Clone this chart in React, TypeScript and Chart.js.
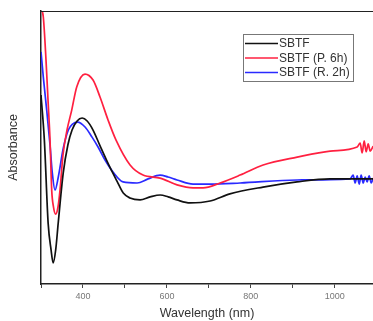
import React, { useEffect, useRef } from "react";
import { Chart, registerables } from "chart.js";

Chart.register(...registerables);

const seriesNames = ["SBTF", "SBTF (P. 6h)", "SBTF (R. 2h)"];
const seriesColors = ["#111111", "#ff2040", "#2a2aff"];

const sbtfX = [300, 308, 317, 324, 329, 335, 341, 353, 364, 374, 386, 398, 410, 424, 441, 465, 481, 496, 512, 536, 560, 584, 603, 624, 655, 703, 750, 829, 910, 989, 1044, 1091];
const sbtfY = [0.692, 0.527, 0.223, 0.125, 0.077, 0.125, 0.223, 0.407, 0.509, 0.564, 0.597, 0.608, 0.597, 0.564, 0.505, 0.425, 0.377, 0.333, 0.315, 0.308, 0.319, 0.326, 0.319, 0.308, 0.297, 0.304, 0.33, 0.355, 0.374, 0.385, 0.385, 0.385];

const pX = [300, 305.5, 311.9, 316.7, 321.5, 325.5, 329.8, 335, 340.5, 345.3, 352.4, 362, 373.2, 385.1, 404.9, 424, 440.6, 459.7, 478.8, 512.2, 543.1, 583.7, 624.2, 662.3, 686.2, 726.7, 774.4, 829.2, 910.3, 988.9, 1053.3, 1060.4, 1065.2, 1070, 1074.7, 1079.5, 1084.3, 1091.4];
const pY = [1.011, 0.978, 0.821, 0.674, 0.527, 0.344, 0.282, 0.256, 0.282, 0.344, 0.473, 0.564, 0.637, 0.722, 0.769, 0.747, 0.685, 0.601, 0.527, 0.436, 0.399, 0.388, 0.363, 0.352, 0.352, 0.37, 0.399, 0.436, 0.465, 0.487, 0.502, 0.516, 0.48, 0.524, 0.484, 0.513, 0.487, 0.505];

const rX = [300, 305.5, 313.6, 321.5, 326.9, 333.4, 341.2, 353.2, 365.1, 375.1, 387.5, 404.9, 421.6, 435.9, 452.6, 471.6, 495.5, 528.8, 555.1, 583.7, 602.7, 624.2, 662.3, 702.9, 774.4, 910.3, 1036.6, 1043.7, 1048.5, 1053.3, 1058.1, 1062.8, 1067.6, 1072.4, 1077.1, 1081.9, 1086.7, 1091.4];
const rY = [0.85, 0.758, 0.637, 0.509, 0.407, 0.344, 0.392, 0.498, 0.564, 0.586, 0.593, 0.575, 0.538, 0.502, 0.454, 0.41, 0.374, 0.37, 0.385, 0.399, 0.392, 0.381, 0.366, 0.366, 0.37, 0.381, 0.385, 0.399, 0.37, 0.396, 0.366, 0.399, 0.37, 0.392, 0.374, 0.396, 0.37, 0.388];

const xTickValues = [300, 400, 500, 600, 700, 800, 900, 1000];
const xTickLabels = ["", "400", "", "600", "", "800", "", "1000"];
const xTitle = "Wavelength (nm)";
const yTitle = "Absorbance";

function toPoints(xs: number[], ys: number[]) {
  return xs.map((x, i) => ({ x, y: ys[i] }));
}

const frameAndLegend = {
  id: "frameAndLegend",
  afterDraw(chart: any) {
    const ctx = chart.ctx;
    const a = chart.chartArea;
    ctx.save();
    ctx.strokeStyle = "#222";
    ctx.lineWidth = 1.2;
    ctx.beginPath();
    ctx.moveTo(a.left, a.top + 0.5);
    ctx.lineTo(a.right, a.top + 0.5);
    ctx.stroke();
    const bx = 243.5, by = 34.5, bw = 110, bh = 47;
    ctx.fillStyle = "#ffffff";
    ctx.fillRect(bx, by, bw, bh);
    ctx.strokeStyle = "#777";
    ctx.lineWidth = 1;
    ctx.strokeRect(bx, by, bw, bh);
    const rows = [43.5, 58, 72.5];
    ctx.font = "12px 'Liberation Sans', Arial, sans-serif";
    ctx.textBaseline = "middle";
    seriesNames.forEach((name, i) => {
      ctx.strokeStyle = seriesColors[i];
      ctx.lineWidth = 1.6;
      ctx.beginPath();
      ctx.moveTo(245, rows[i]);
      ctx.lineTo(278, rows[i]);
      ctx.stroke();
      ctx.fillStyle = "#333";
      ctx.fillText(name, 279, rows[i] + 0.5);
    });
    ctx.restore();
  },
};

export default function App() {
  const ref = useRef<HTMLCanvasElement | null>(null);
  useEffect(() => {
    if (!ref.current) return;
    const chart = new Chart(ref.current, {
      type: "line",
      data: {
        datasets: [
          { label: seriesNames[0], data: toPoints(sbtfX, sbtfY), borderColor: seriesColors[0] },
          { label: seriesNames[1], data: toPoints(pX, pY), borderColor: seriesColors[1] },
          { label: seriesNames[2], data: toPoints(rX, rY), borderColor: seriesColors[2] },
        ].map((d) => ({ ...d, borderWidth: 1.7, pointRadius: 0, fill: false, cubicInterpolationMode: "monotone" as const })),
      },
      plugins: [frameAndLegend],
      options: {
        animation: false,
        responsive: false,
        layout: { padding: { left: 0, right: 0, top: 11, bottom: 0 } },
        plugins: { legend: { display: false }, tooltip: { enabled: false } },
        scales: {
          x: {
            type: "linear",
            min: 300,
            max: 1091,
            afterFit: (s: any) => { s.height = 37; },
            afterBuildTicks: (s: any) => { s.ticks = xTickValues.map((v) => ({ value: v })); },
            border: { display: true, color: "#222", width: 1.5 },
            grid: { display: true, drawOnChartArea: false, drawTicks: true, tickLength: 4, color: "#444", tickColor: "#444" },
            ticks: {
              autoSkip: false,
              maxRotation: 0,
              minRotation: 0,
              padding: 3,
              color: "#777",
              font: { size: 9, family: "'Liberation Sans', Arial, sans-serif" },
              callback: (_v: any, i: number) => xTickLabels[i],
            },
            title: {
              display: true,
              text: xTitle,
              color: "#333",
              font: { size: 12.5, family: "'Liberation Sans', Arial, sans-serif" },
              padding: { top: 8, bottom: 0 },
            },
          },
          y: {
            type: "linear",
            min: 0,
            max: 1,
            afterFit: (s: any) => { s.width = 41; },
            border: { display: true, color: "#222", width: 1.5 },
            grid: { display: false },
            ticks: { display: false },
            title: {
              display: true,
              text: yTitle,
              color: "#333",
              font: { size: 12.5, family: "'Liberation Sans', Arial, sans-serif" },
              padding: { top: 6, bottom: 0 },
            },
          },
        },
      },
    });
    return () => chart.destroy();
  }, []);
  return (
    <div style={{ position: "fixed", left: 0, top: 0, width: 373, height: 321, background: "#fff" }}>
      <canvas ref={ref} width={373} height={321} style={{ display: "block" }} />
    </div>
  );
}
